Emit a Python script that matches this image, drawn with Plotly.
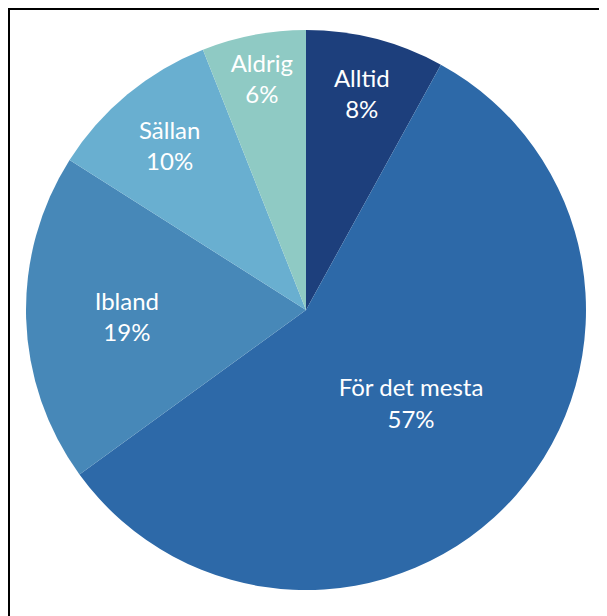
import plotly.graph_objects as go

categories = ["Alltid", "För det mesta", "Ibland", "Sällan", "Aldrig"]
values = [8, 57, 19, 10, 6]
colors = ["#1d3f7c", "#2d69a8", "#4788b8", "#69afd0", "#8fcac4"]

W, H = 607, 616
OFF = 8  # page body margin
fig = go.Figure(go.Pie(
    labels=categories,
    values=values,
    sort=False,
    direction="clockwise",
    rotation=0,
    marker=dict(colors=colors, line=dict(width=0)),
    texttemplate="%{label}<br>%{value}%",
    textposition="inside",
    insidetextorientation="horizontal",
    textfont=dict(family="Lato, Open Sans, sans-serif", size=24, color="white"),
    hoverinfo="label+percent",
    domain=dict(x=[(26 - OFF) / W, (586 - OFF) / W],
                y=[1 - (590 - OFF) / H, 1 - (30 - OFF) / H]),
))

fig.update_layout(
    width=W, height=H,
    margin=dict(l=0, r=0, t=0, b=0),
    showlegend=False,
    paper_bgcolor="white",
    uniformtext=dict(minsize=24, mode="show"),
    shapes=[dict(type="rect", xref="paper", yref="paper",
                 x0=0, x1=1.05, y0=-0.05, y1=1,
                 line=dict(color="black", width=4))],
)

fig.write_html("out.html")
